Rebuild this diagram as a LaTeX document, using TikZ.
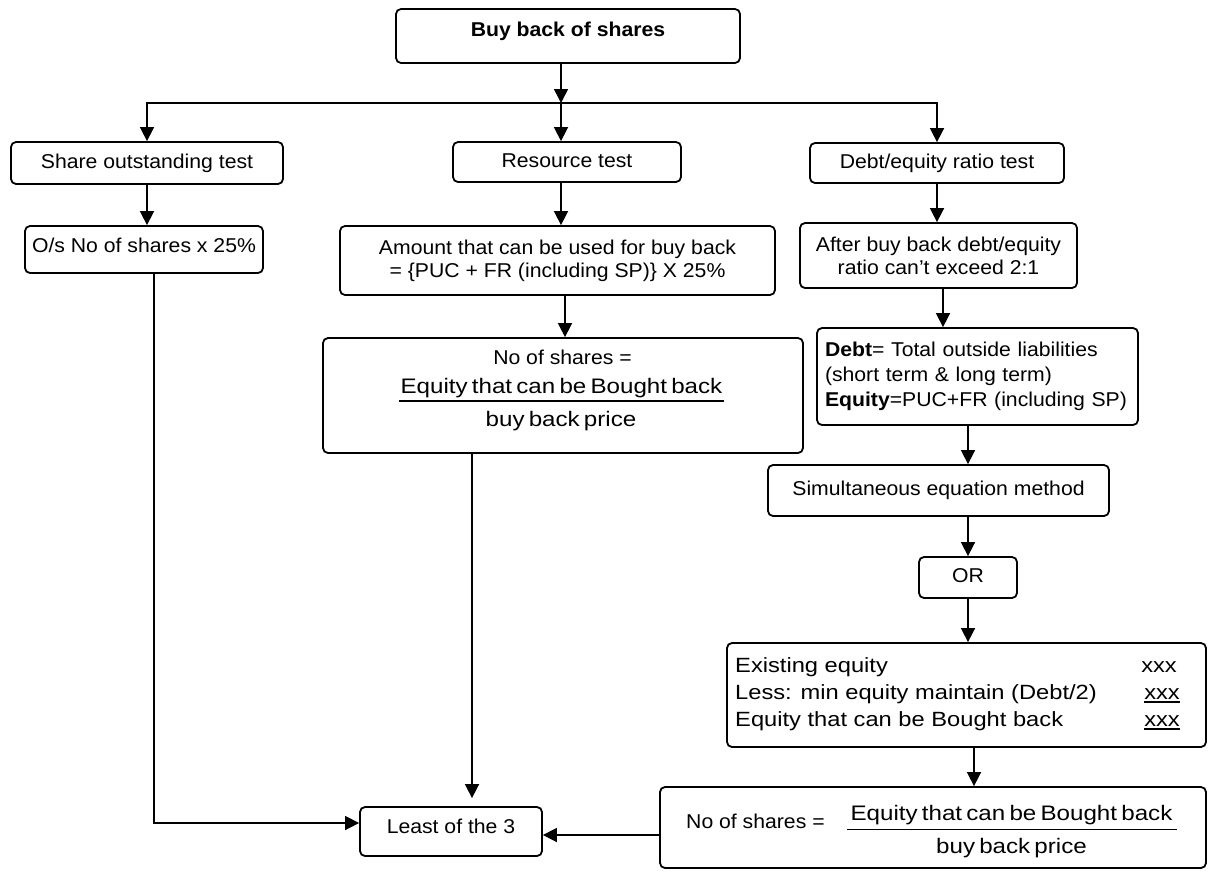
\documentclass[tikz,border=0pt]{standalone}
\usepackage{fontspec}
\setmainfont{Liberation Sans}[FakeStretch=1.06]
\newfontfamily\widefont{Liberation Sans}[FakeStretch=1.15]
\usetikzlibrary{arrows.meta}

% font sizes (1pt = one unit of the drawing grid)
\newcommand\mainsz{\fontsize{20}{23}\selectfont}
\newcommand\defsz{\fontsize{20}{25}\selectfont}
\newcommand\widesz{\widefont\fontsize{20.6}{27}\selectfont}
\newcommand\fracsz{\widefont\fontsize{21}{27}\selectfont\spaceskip=0.2em plus 0.1em\relax}

\tikzset{
  box/.style={draw, line width=1.8pt, rounded corners=5pt, inner sep=0pt,
              align=center, font=\mainsz},
  one/.style={text height=15pt, text depth=4.5pt},
  conn/.style={line width=1.6pt, -{Triangle[width=14pt,length=14pt]}},
  bar/.style={line width=1.3pt},
  lbl/.style={inner sep=0pt, anchor=base, font=\mainsz},
}

\begin{document}
\begin{tikzpicture}[x=1pt,y=-1pt]
\path[use as bounding box, fill=white] (0,0) rectangle (1208,871);

% ---- boxes ----
\node[box, minimum width=344pt, text height=27pt, text depth=27pt,
      font=\mainsz\bfseries] (top) at (568,36) {Buy back of shares};

\node[box, one, minimum width=272pt, minimum height=42pt] (share) at (147,163) {Share outstanding test};
\node[box, one, minimum width=228pt, minimum height=40pt] (resource) at (567,162) {Resource test};
\node[box, one, minimum width=254pt, minimum height=40pt] (debtr) at (937,163) {Debt/equity ratio test};

\node[box, text height=15pt, text depth=10pt, minimum width=238pt, minimum height=47pt]
  (os) at (144,249.5) {O/s No of shares x 25\%};
\node[box, minimum width=435pt, minimum height=69pt] (amount) at (557.5,260.5)
  {Amount that can be used for buy back\\= \{PUC + FR (including SP)\} X 25\%};
\node[box, minimum width=277pt, minimum height=65pt] (after) at (938.5,255.5)
  {After buy back debt/equity\\ratio can’t exceed 2:1};

\node[box, minimum width=480pt, minimum height=115pt] (nos) at (563,395.5) {};
\node[box, align=left, font=\defsz, text width=305pt, inner xsep=8pt,
      minimum height=97pt] (debtdef) at (977.5,376.5)
  {\textbf{Debt}= Total outside liabilities\\(short term \& long term)\\\textbf{Equity}=PUC+FR (including SP)};

\node[box, one, minimum width=341pt, minimum height=51pt] (simul) at (938.5,490.5) {Simultaneous equation method};
\node[box, one, minimum width=98pt, minimum height=41pt] (or) at (968,577.5) {OR};

\node[box, minimum width=479pt, minimum height=104pt] (exist) at (966.5,695) {};
\node[box, minimum width=546pt, minimum height=81pt] (bottom) at (933,827.5) {};
\node[box, text height=15pt, text depth=12pt, minimum width=182pt, minimum height=49pt]
  (least) at (451,831.5) {Least of the 3};

% ---- resource test: number of shares ----
\node[lbl] (nos1) at (562.5,364) {No of shares =};
\node[lbl, font=\fracsz] (nosn) at (561.5,393) {Equity that can be Bought back};
\node[lbl, font=\fracsz] (nosd) at (561,426) {buy back price};
\draw[bar] ([xshift=-1pt,yshift=-8pt]nosn.base west) -- ([xshift=1pt,yshift=-8pt]nosn.base east);

% ---- equity schedule ----
\node[lbl, anchor=base west, font=\widesz] (ex1) at (735,672) {Existing equity};
\node[lbl, anchor=base east, font=\widesz] (ex1v) at (1177,672) {xxx};
\node[lbl, anchor=base west, font=\widesz] (ex2) at (735,699) {Less: min equity maintain (Debt/2)};
\node[lbl, anchor=base east, font=\widesz] (ex2v) at (1180,699) {xxx};
\node[lbl, anchor=base west, font=\widesz] (ex3) at (735,726) {Equity that can be Bought back};
\node[lbl, anchor=base east, font=\widesz] (ex3v) at (1180,726) {xxx};
\draw[bar] ([yshift=-3pt]ex2v.base west) -- ([yshift=-3pt]ex2v.base east);
\draw[bar] ([yshift=-3pt]ex3v.base west) -- ([yshift=-3pt]ex3v.base east);

% ---- debt/equity test: number of shares ----
\node[lbl, anchor=base west] (bot1) at (686,828.5) {No of shares =};
\node[lbl, font=\fracsz] (botn) at (1011.5,820) {Equity that can be Bought back};
\node[lbl, font=\fracsz] (botd) at (1011.5,853) {buy back price};
\draw[bar] ([xshift=-3pt,yshift=-9.3pt]botn.base west) -- ([xshift=4pt,yshift=-9.3pt]botn.base east);

% ---- connectors ----
\coordinate (j) at (561,103);
\draw[conn] (top.south -| j) -- (j);
\draw[conn] (j) -| (share.north);
\draw[conn] (j) -| (debtr.north);
\draw[conn] (j) -- (j |- resource.north);

\draw[conn] (share.south) -- (share.south |- os.north);
\draw[conn] ([xshift=10pt]os.south) |- ([yshift=8.5pt]least.west);

\draw[conn] ([xshift=-6pt]resource.south) -- ([xshift=-6pt]resource.south |- amount.north);
\draw[conn] ([xshift=2pt]nos.north |- amount.south) -- ([xshift=2pt]nos.north);
\draw[conn, shorten >=8pt] ([xshift=-91pt]nos.south) -- ([xshift=-91pt]nos.south |- least.north);

\draw[conn] (debtr.south) -- (debtr.south |- after.north);
\draw[conn] ([xshift=4.5pt]after.south) -- ([xshift=4.5pt]after.south |- debtdef.north);
\draw[conn] (debtdef.south -| or.north) -- (simul.north -| or.north);
\draw[conn] (simul.south -| or.north) -- (or.north);
\draw[conn] (or.south) -- (or.south |- exist.north);
\draw[conn] ([xshift=7.5pt]exist.south) -- ([xshift=7.5pt]exist.south |- bottom.north);
\draw[conn] ([yshift=-7.5pt]bottom.west) -- ([yshift=-7.5pt]bottom.west -| least.east);
\end{tikzpicture}
\end{document}
